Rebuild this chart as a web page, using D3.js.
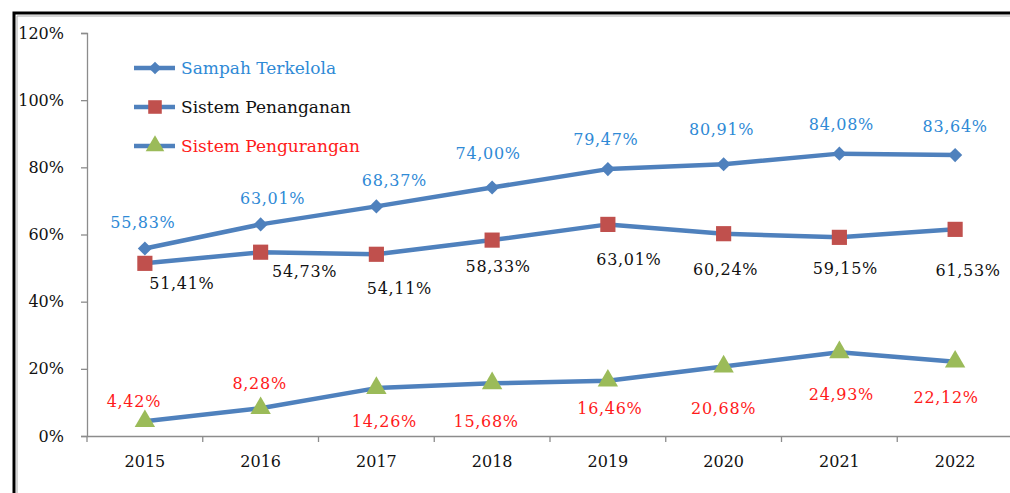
<!DOCTYPE html>
<html>
<head>
<meta charset="utf-8">
<script src="https://cdn.jsdelivr.net/npm/d3@7"></script>
<style>
  body { margin: 0; padding: 0; background: #fff; }
  svg { display: block; }
  .axis text { font-family: "DejaVu Serif", serif; fill: #111; }
  .lbl { font-family: "DejaVu Serif", serif; font-size: 16px; letter-spacing: 0.7px; }
  .legend text { font-family: "DejaVu Serif", serif; font-size: 17px; }
</style>
</head>
<body>
<svg id="chart" width="1010" height="493"></svg>
<script>
// data
var years = ["2015", "2016", "2017", "2018", "2019", "2020", "2021", "2022"];
var sampahTerkelola = [55.83, 63.01, 68.37, 74.00, 79.47, 80.91, 84.08, 83.64];
var sistemPenanganan = [51.41, 54.73, 54.11, 58.33, 63.01, 60.24, 59.15, 61.53];
var sistemPengurangan = [4.42, 8.28, 14.26, 15.68, 16.46, 20.68, 24.93, 22.12];
var yTicks = [0, 20, 40, 60, 80, 100, 120];

var svg = d3.select("#chart");

// outer frame
svg.append("rect")
    .attr("x", 14).attr("y", 13)
    .attr("width", 1100).attr("height", 600)
    .attr("fill", "none").attr("stroke", "#000").attr("stroke-width", 3);
svg.append("path")
    .attr("d", "M17,600V16H1100")
    .attr("fill", "none").attr("stroke", "#aaa").attr("stroke-width", 1);

var x = d3.scaleBand().domain(years).range([87, 1013]).padding(0);
var y = d3.scaleLinear().domain([0, 120]).range([436, 33]);

// y axis
var yAxis = svg.append("g").attr("class", "axis")
    .attr("transform", "translate(87,0)")
    .call(d3.axisLeft(y).tickValues(yTicks).tickSize(6).tickPadding(17)
      .tickFormat(function(d) { return d + "%"; }));
yAxis.selectAll("text").style("font-size", "16px");
yAxis.selectAll("line, path").attr("stroke", "#8c8c8c").attr("stroke-width", 1.3);

// x axis
var xAxis = svg.append("g").attr("class", "axis")
    .attr("transform", "translate(0,436)")
    .call(d3.axisBottom(x).tickSize(0).tickPadding(20));
xAxis.selectAll("text").style("font-size", "16px");
xAxis.select("path").attr("stroke", "#8c8c8c").attr("stroke-width", 1.3);
xAxis.selectAll(".tickmark").data(years.concat(["end"])).enter().append("line")
    .attr("x1", function(d, i) { return 87 + i * x.bandwidth(); })
    .attr("x2", function(d, i) { return 87 + i * x.bandwidth(); })
    .attr("y1", 0).attr("y2", 6)
    .attr("stroke", "#8c8c8c").attr("stroke-width", 1.3);

var lineColor = "#4f81bd";
var cx = function(d, i) { return x(years[i]) + x.bandwidth() / 2; };
var line = d3.line().x(cx).y(function(d) { return y(d); });

var series = [
  { name: "Sampah Terkelola", values: sampahTerkelola, marker: d3.symbolSquare, size: 100, rot: 45,
    fill: "#4f81bd", text: "#2f8ad6",
    nudge: [[-2,-26],[12,-26],[18,-26],[-4,-34],[-2,-30],[-2,-35],[2,-29],[0,-29]] },
  { name: "Sistem Penanganan", values: sistemPenanganan, marker: d3.symbolSquare, size: 230, rot: 0,
    fill: "#c0504d", text: "#111",
    nudge: [[37,20],[44,19],[23,34],[6,26],[21,35],[2,36],[6,31],[13,41]] },
  { name: "Sistem Pengurangan", values: sistemPengurangan, marker: d3.symbolTriangle, size: 180, rot: 0,
    fill: "#9bbb59", text: "#ff1a1a",
    nudge: [[-11,-20],[-1,-25],[8,33],[-6,38],[2,28],[0,42],[2,42],[-9,36]] }
];

series.forEach(function(s) {
  svg.append("path")
      .datum(s.values)
      .attr("d", line)
      .attr("fill", "none")
      .attr("stroke", lineColor)
      .attr("stroke-width", 4.5)
      .attr("stroke-linejoin", "round");
});

series.forEach(function(s) {
  svg.selectAll(null).data(s.values).enter().append("path")
      .attr("d", d3.symbol().type(s.marker).size(s.size))
      .attr("transform", function(d, i) {
        return "translate(" + cx(d, i) + "," + y(d) + ") rotate(" + s.rot + ")";
      })
      .attr("fill", s.fill);

  svg.selectAll(null).data(s.values).enter().append("text")
      .attr("class", "lbl")
      .attr("x", function(d, i) { return cx(d, i) + s.nudge[i][0]; })
      .attr("y", function(d, i) { return y(d) + s.nudge[i][1]; })
      .attr("dy", "0.35em")
      .attr("text-anchor", "middle")
      .attr("fill", s.text)
      .text(function(d) { return d.toFixed(2).replace(".", ",") + "%"; });
});

// legend
var legend = svg.append("g").attr("class", "legend").attr("transform", "translate(134,68)");
series.forEach(function(s, i) {
  var g = legend.append("g").attr("transform", "translate(0," + (i * 39) + ")");
  g.append("line").attr("x1", 0).attr("x2", 41).attr("y1", 0).attr("y2", 0)
      .attr("stroke", lineColor).attr("stroke-width", 4.5);
  g.append("path")
      .attr("d", d3.symbol().type(s.marker).size(s.marker === d3.symbolTriangle ? 150 : s.size * 0.8))
      .attr("transform", "translate(21,0) rotate(" + s.rot + ")")
      .attr("fill", s.fill);
  g.append("text").attr("x", 47).attr("y", 0).attr("dy", "0.35em")
      .attr("fill", s.text).text(s.name);
});
</script>
</body>
</html>
